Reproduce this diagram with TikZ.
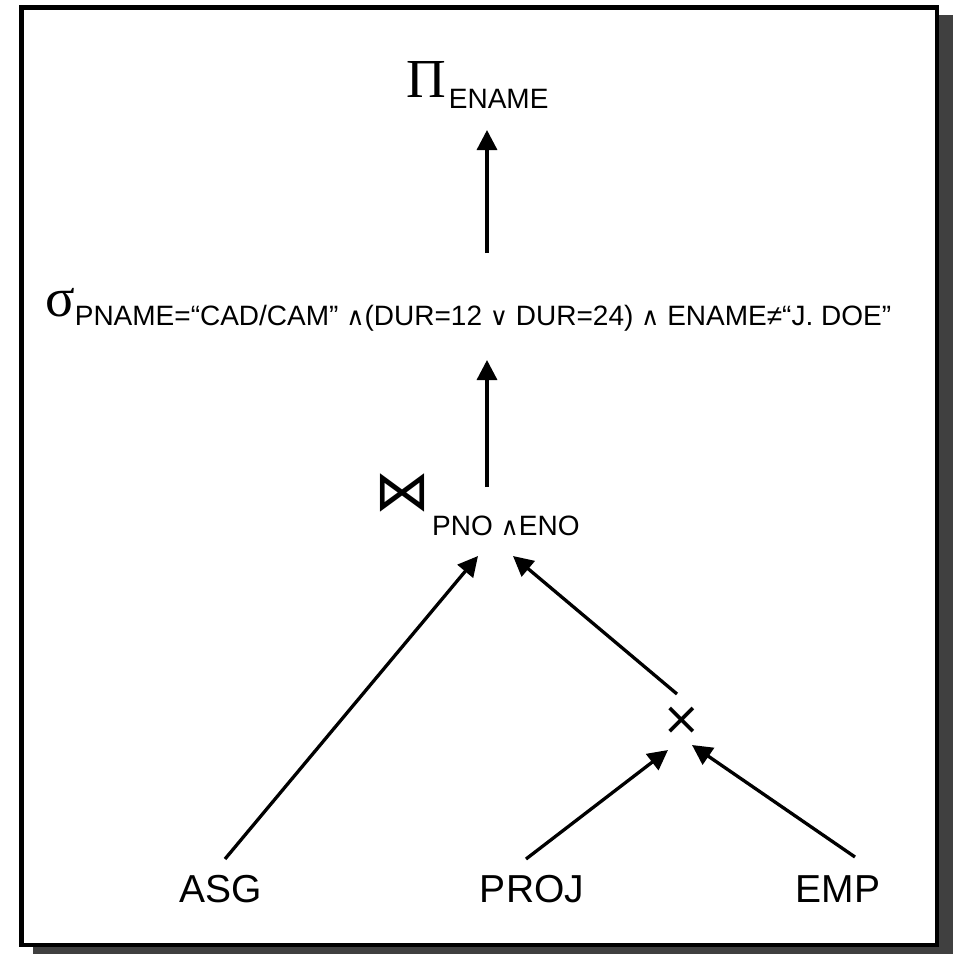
\documentclass[tikz,border=0pt]{standalone}
\usepackage{fontspec}
\setmainfont{Liberation Sans}
\newfontfamily\greekfont{Liberation Serif}
\newfontfamily\symfont{DejaVu Sans}
\usetikzlibrary{arrows.meta,calc}

\definecolor{shadowgray}{RGB}{64,64,64}

% operator symbol, subscript text and the small logical connectives
\newcommand\bigop[1]{{\greekfont\fontsize{55}{60}\selectfont #1}}
\newcommand\opsub[2]{\raisebox{-#1pt}{\fontsize{28}{32}\selectfont #2}}
\newcommand\andsym{{\symfont\fontsize{25}{26}\selectfont ∧}}
\newcommand\orsym{{\symfont\fontsize{25}{26}\selectfont ∨}}

\tikzset{
  conn/.style={line width=3.3pt, -{Triangle[length=20pt,width=20pt]}},
  opnode/.style={inner sep=0pt, anchor=base west},
  relnode/.style={inner sep=0pt, anchor=base, font=\fontsize{39}{44}\selectfont},
}

\begin{document}
\begin{tikzpicture}[x=1pt,y=-1pt]
  \useasboundingbox (0,0) rectangle (953,954);

  % framed panel with drop shadow
  \fill[shadowgray] (33,15) rectangle (953,954);
  \draw[line width=4.5pt, fill=white] (21.25,7.25) rectangle (936.75,944.75);

  % operators
  \node[opnode] (pi) at (406,97) {\bigop{Π}\kern3pt\opsub{11}{ENAME}};
  \node[opnode] (sigma) at (45,316)
    {\bigop{σ}\opsub{9}{PNAME=“CAD/CAM” \andsym(DUR=12 \orsym\ DUR=24) \andsym\ ENAME≠“J. DOE”}};
  \node[opnode] (join) at (374,510)
    {{\symfont\fontsize{56}{60}\selectfont ⋈}\kern2pt\opsub{25}{PNO \andsym ENO}};
  \node[inner sep=0pt] (times) at (682,721) {{\symfont\fontsize{46}{50}\selectfont ×}};

  % base relations
  \node[relnode] (asg)  at (221,902) {ASG};
  \node[relnode] (proj) at (532,902) {PROJ};
  \node[relnode] (emp)  at (838,902) {EMP};

  % data flow
  \draw[conn] ($(sigma.base west)+(442,-63)$) -- ($(pi.base west)+(81,33)$);
  \draw[conn] ($(join.base west)+(113,-23)$) -- ($(sigma.base west)+(442,44)$);
  \draw[conn] ($(asg.base)+(4,-43)$) -- ($(join.base west)+(104,46)$);
  \draw[conn] ($(times.center)+(-5,-27)$) -- ($(join.base west)+(139,46)$);
  \draw[conn] ($(proj.base)+(-6,-43)$) -- ($(times.center)+(-14,29)$);
  \draw[conn] ($(emp.base)+(17,-45)$) -- ($(times.center)+(10,24)$);
\end{tikzpicture}
\end{document}
